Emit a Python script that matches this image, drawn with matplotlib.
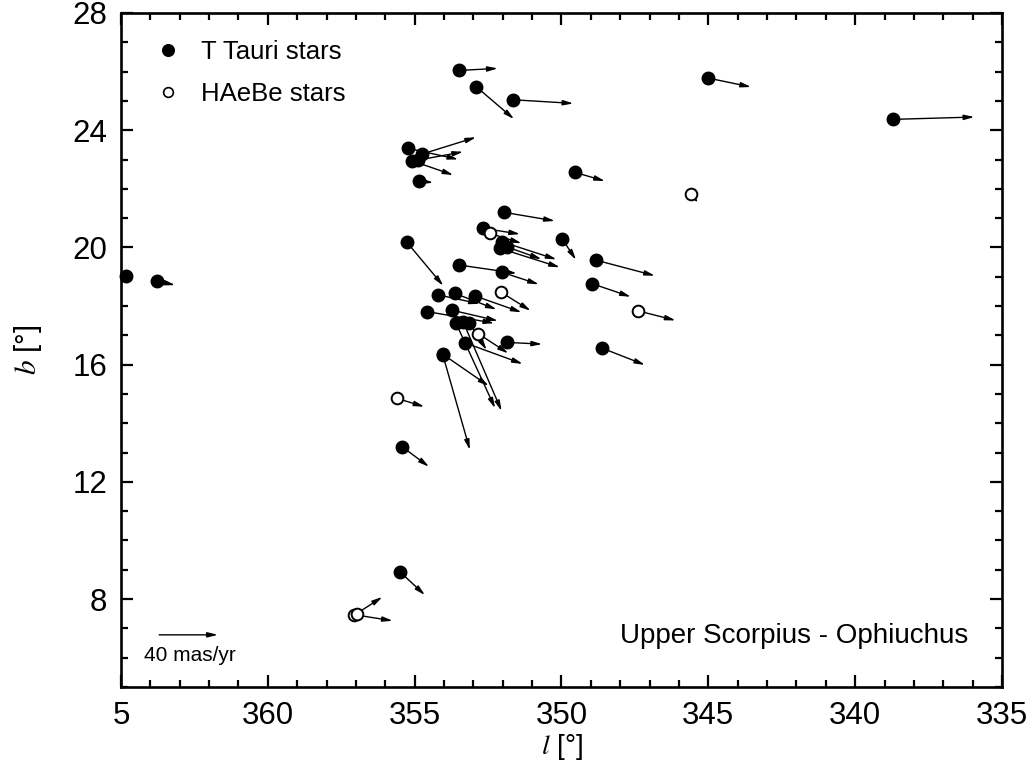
import numpy as np
import matplotlib
matplotlib.use("Agg")
import matplotlib.pyplot as plt
from matplotlib.lines import Line2D

plt.rcParams['font.family'] = ['Liberation Sans', 'DejaVu Sans']
plt.rcParams['mathtext.fontset'] = 'stix'

# ---- data (galactic coordinates in degrees, proper motions in mas/yr) ----
tt_l = [4.83, 3.77, 353.48, 352.90, 351.66, 345.01, 338.72, 355.22, 354.74, 355.10,
        354.88, 354.85, 349.54, 351.97, 352.66, 352.02, 352.10, 351.87, 349.97, 355.26,
        353.49, 352.02, 348.84, 348.95, 354.20, 353.63, 352.96, 354.57, 353.74, 353.59,
        353.35, 353.14, 353.30, 351.85, 354.05, 354.04, 348.61, 355.43, 355.50]
tt_b = [19.02, 18.85, 26.04, 25.48, 25.04, 25.78, 24.37, 23.38, 23.19, 22.96,
        22.98, 22.27, 22.56, 21.20, 20.65, 20.19, 19.97, 20.02, 20.28, 20.17,
        19.40, 19.15, 19.57, 18.76, 18.38, 18.43, 18.35, 17.81, 17.86, 17.41,
        17.46, 17.43, 16.75, 16.76, 16.36, 16.33, 16.56, 13.20, 8.93]
tt_mul = [np.nan, -12.3, -26.2, -25.7, -41.3, -29.3, -55.6, -34.1, -36.6, -28.3,
          -30.6, -9.7, -20.4, -34.9, -25.0, -37.0, -40.9, -23.8, -9.3, -24.7,
          -39.3, -25.0, -40.4, -26.2, -28.4, -28.4, -32.0, -45.6, -31.5, -26.6,
          -26.2, -11.8, -39.6, -23.8, -31.5, -18.4, -29.1, -18.4, -17.0]
tt_mub = [np.nan, -2.7, 1.4, -22.0, -2.5, -6.1, 1.6, -7.5, 11.4, -9.8,
          5.7, -1.2, -5.9, -5.9, -3.9, -12.0, -13.0, -8.4, -14.1, -29.6,
          -5.7, -8.2, -10.7, -8.9, -6.1, -10.9, -11.3, -7.9, -7.3, -58.0,
          -60.8, -18.6, -14.5, -1.2, -21.8, -64.8, -11.4, -13.7, -15.9]

hae_l = [352.44, 345.60, 352.07, 347.41, 352.84, 355.61, 357.08, 356.98]
hae_b = [20.48, 21.81, 18.48, 17.84, 17.06, 14.85, 7.47, 7.50]
hae_mul = [-21.6, -5.2, -20.4, -25.9, -20.6, -18.8, -26.7, -17.6]
hae_mub = [-6.8, -5.7, -12.8, -6.6, -13.5, -5.7, -4.2, 11.5]

ref_mu = 40.0            # mas/yr reference arrow
ref_l, ref_b = 3.70, 6.78
scale = 0.05             # degrees per mas/yr

xtick_vals = [365, 360, 355, 350, 345, 340, 335]
xtick_labels = ["5", "360", "355", "350", "345", "340", "335"]
ytick_vals = [8, 12, 16, 20, 24, 28]


def unwrap(l):
    l = np.asarray(l, dtype=float)
    return np.where(l < 180, l + 360, l)


fig = plt.figure(figsize=(10.28, 7.66), dpi=100)
ax = fig.add_axes([121 / 1028, 1 - 687 / 766, 881 / 1028, 674 / 766])

arrow_kw = dict(arrowstyle='-|>,head_length=0.6,head_width=0.15',
                color='black', lw=1.0, shrinkA=0, shrinkB=0)


def draw_arrows(ls, bs, mul, mub):
    for l, b, ml, mb in zip(unwrap(ls), bs, mul, mub):
        if np.isnan(ml):
            continue
        ax.annotate('', xy=(l + ml * scale, b + mb * scale), xytext=(l, b),
                    arrowprops=arrow_kw, zorder=2, annotation_clip=False)


draw_arrows(tt_l, tt_b, tt_mul, tt_mub)
draw_arrows(hae_l, hae_b, hae_mul, hae_mub)

ax.plot(unwrap(tt_l), tt_b, 'o', ms=9.0, mfc='black', mec='black', mew=1.0,
        ls='none', zorder=4, clip_on=False)
ax.plot(unwrap(hae_l), hae_b, 'o', ms=8.4, mfc='white', mec='black', mew=1.4,
        ls='none', zorder=4, clip_on=False)

# reference arrow
rl = float(unwrap([ref_l])[0])
ax.annotate('', xy=(rl - ref_mu * scale, ref_b), xytext=(rl, ref_b),
            arrowprops=arrow_kw, zorder=2)
ax.text(rl + 0.52, ref_b - 0.70, '40 mas/yr', fontsize=15, ha='left', va='center')

ax.text(0.9614, 0.0757, 'Upper Scorpius - Ophiuchus', transform=ax.transAxes,
        fontsize=20, ha='right', va='center')

ax.set_xlim(365, 335)
ax.set_ylim(5, 28)
ax.set_xticks(xtick_vals)
ax.set_xticklabels(xtick_labels)
ax.set_yticks(ytick_vals)
ax.set_xticks(np.arange(335, 366, 1), minor=True)
ax.set_yticks(np.arange(5, 29, 1), minor=True)
ax.tick_params(which='both', direction='in', top=True, right=True, width=1.6,
               labelsize=22.5, pad=10)
ax.tick_params(which='major', length=8.5)
ax.tick_params(which='minor', length=5)
for s in ax.spines.values():
    s.set_linewidth(1.9)

ax.set_xlabel('$l$ [°]', fontsize=20, labelpad=1)
ax.set_ylabel('$b$ [°]', fontsize=21, labelpad=20)

handles = [Line2D([], [], marker='o', ls='none', ms=8.4, mfc='black', mec='black'),
           Line2D([], [], marker='o', ls='none', ms=7.0, mfc='white', mec='black', mew=1.2)]
ax.legend(handles, ['T Tauri stars', 'HAeBe stars'], loc='upper left',
          bbox_to_anchor=(0.027, 0.975), frameon=False, fontsize=18.5,
          handlelength=1.0, handletextpad=0.8, labelspacing=0.7, borderaxespad=0)

fig.savefig('out.png', dpi=100)
